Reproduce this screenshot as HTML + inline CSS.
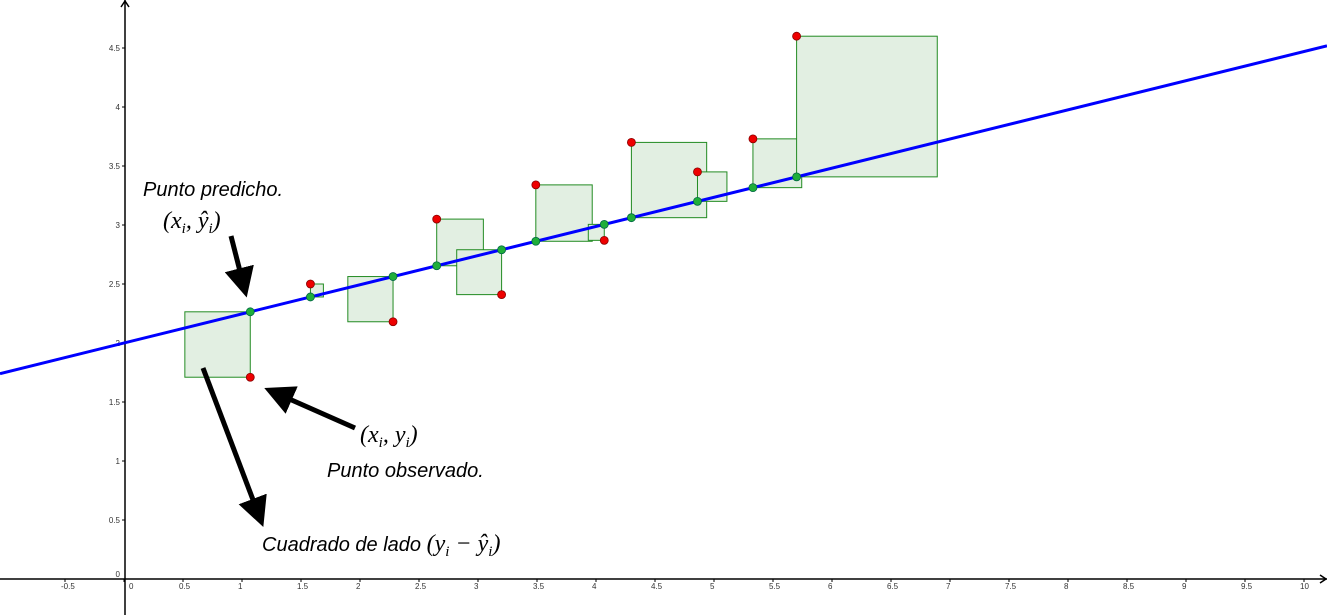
<!DOCTYPE html>
<html><head><meta charset="utf-8"><style>
html,body{margin:0;padding:0;background:#fff;width:1327px;height:615px;overflow:hidden}
svg{display:block}
.t{font-family:"Liberation Sans",sans-serif;font-style:italic;font-size:20px;fill:#000}
.m{font-family:"Liberation Serif",serif;font-style:italic;font-size:24px;fill:#000}
.tk{font-family:"Liberation Sans",sans-serif;font-size:8px;fill:#333}
</style></head><body>
<svg id="c" width="1327" height="615">
<defs><marker id="ah" markerWidth="6" markerHeight="6" refX="3" refY="3" orient="auto" markerUnits="strokeWidth"><path d="M0,0 L6,3 L0,6 z" fill="#000"/></marker></defs>
<g id="axes"></g>
<g id="squares"></g>
<line id="regline" stroke="#0000ff" stroke-width="3"/>
<g id="pts"></g>
<g>
<text class="t" x="143" y="196">Punto predicho.</text>
<text class="m" x="163" y="228">(x<tspan font-size="15" dy="5">i</tspan><tspan dy="-5">, ŷ</tspan><tspan font-size="15" dy="5">i</tspan><tspan dy="-5">)</tspan></text>
<text class="m" x="360" y="442">(x<tspan font-size="15" dy="5">i</tspan><tspan dy="-5">, y</tspan><tspan font-size="15" dy="5">i</tspan><tspan dy="-5">)</tspan></text>
<text class="t" x="327" y="477">Punto observado.</text>
<text class="t" x="262" y="551">Cuadrado de lado <tspan class="m" style="font-size:24px;font-family:'Liberation Serif',serif">(y<tspan font-size="15" dy="5">i</tspan><tspan dy="-5"> − ŷ</tspan><tspan font-size="15" dy="5">i</tspan><tspan dy="-5">)</tspan></tspan></text>
<line x1="231" y1="236" x2="243" y2="283" stroke="#000" stroke-width="5" marker-end="url(#ah)"/>
<line x1="355" y1="428" x2="278" y2="394" stroke="#000" stroke-width="5" marker-end="url(#ah)"/>
<line x1="203" y1="368" x2="258" y2="513" stroke="#000" stroke-width="5" marker-end="url(#ah)"/>
</g>
</svg>
<script>
const xs=[1.07,1.58,2.28,2.65,3.2,3.49,4.07,4.3,4.86,5.33,5.7];
const ys=[1.71,2.50,2.18,3.05,2.41,3.34,2.87,3.70,3.45,3.73,4.60];
const sides=[-1,1,-1,1,-1,1,-1,1,1,1,1];
const intercept=2.0, slope=0.247;
const xTicks=[-0.5,0,0.5,1,1.5,2,2.5,3,3.5,4,4.5,5,5.5,6,6.5,7,7.5,8,8.5,9,9.5,10];
const yTicks=[0,0.5,1,1.5,2,2.5,3,3.5,4,4.5];
const U=118, X0=124, Y0=579;
const sx=v=>X0+v*U, sy=v=>Y0-v*U;
const NS='http://www.w3.org/2000/svg';
function mk(tag,attrs,parent){const e=document.createElementNS(NS,tag);for(const k in attrs)e.setAttribute(k,attrs[k]);parent.appendChild(e);return e;}
const ax=document.getElementById('axes');
let a=mk('line',{x1:0,y1:Y0,x2:1327,y2:Y0,stroke:'#000','stroke-width':1.5},ax);


a=mk('line',{x1:X0+1,y1:0,x2:X0+1,y2:615,stroke:'#000','stroke-width':1.5},ax);


mk('path',{d:`M${X0-3},7 L${X0+1},1 L${X0+5},7 M1320,${Y0-4} L1326,${Y0} L1320,${Y0+4}`,stroke:'#000',fill:'none','stroke-width':1.5},ax);
xTicks.forEach(v=>{
 mk('line',{x1:sx(v),y1:Y0,x2:sx(v),y2:Y0+3,stroke:'#000'},ax);
 const t=mk('text',{x:sx(v)+(v===0?5:-4),y:Y0+10,class:'tk'},ax);t.textContent=String(v);
 
 
});
yTicks.forEach(v=>{
 mk('line',{x1:X0-2,y1:sy(v),x2:X0+1,y2:sy(v),stroke:'#000'},ax);
 const t=mk('text',{x:X0-4,y:sy(v)+(v===0?-2:3),class:'tk','text-anchor':'end'},ax);t.textContent=String(v);
 
 
});
const rl=document.getElementById('regline');
rl.setAttribute('x1',0);rl.setAttribute('y1',sy(intercept+slope*(-X0/U)));
rl.setAttribute('x2',1327);rl.setAttribute('y2',sy(intercept+slope*((1327-X0)/U)));
const sq=document.getElementById('squares'), pg=document.getElementById('pts');
xs.forEach((x,i)=>{
 const yh=intercept+slope*x, y=ys[i];
 const side=Math.abs(y-yh)*U;
 const px=sx(x), top=Math.min(sy(y),sy(yh));
 const r=mk('rect',{x:sides[i]<0?px-side:px,y:top,width:side,height:side,fill:'#e2efe2',stroke:'#228b22','stroke-width':1},sq);
 
 
 const o=mk('circle',{cx:px,cy:sy(y),r:4,fill:'#ee0000',stroke:'#800','stroke-width':0.8},pg);
 
 
 const p=mk('circle',{cx:px,cy:sy(yh),r:4,fill:'#1fae3a',stroke:'#064','stroke-width':0.8},pg);
 
 
});
</script>
</body></html>
